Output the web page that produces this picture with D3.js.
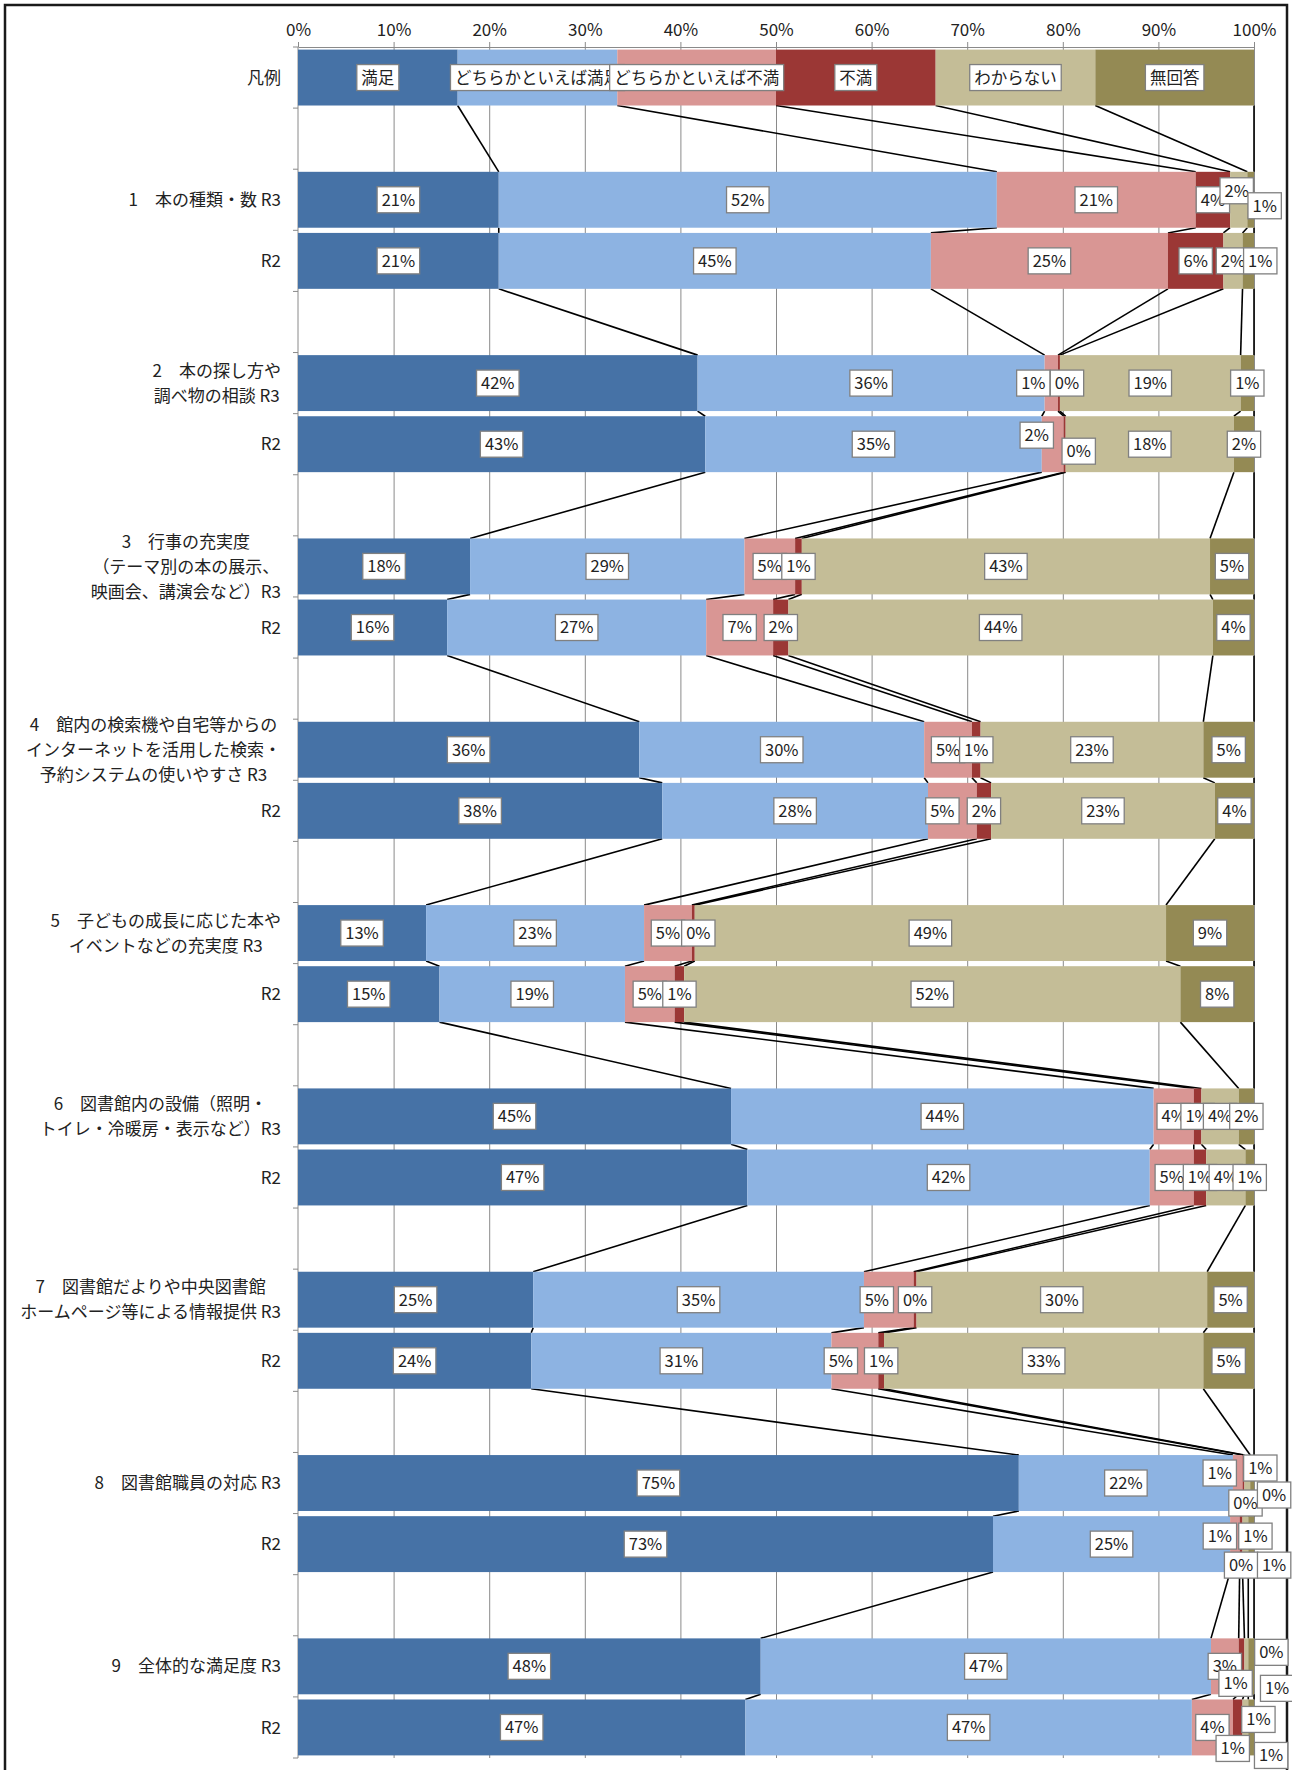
<!DOCTYPE html>
<html>
<head>
<meta charset="utf-8">
<script src="https://cdn.jsdelivr.net/npm/d3@7"></script>
<style>
  body { margin: 0; background: #fff; }
  svg text { font-family: "Noto Sans CJK JP", "Noto Sans", sans-serif; }
</style>
</head>
<body>
<div id="chart"></div>
<script>
// series (legend order)
const seriesNames = ["満足", "どちらかといえば満足", "どちらかといえば不満", "不満", "わからない", "無回答"];
const seriesColors = ["#4672a6", "#8db3e2", "#d99694", "#9b3735", "#c4bd97", "#948a54"];

// legend bar: six equal parts
const legendValues = [16.7, 16.7, 16.6, 16.7, 16.7, 16.6];

// question labels (R3 row), lines of text
const itemLabels = [
  ["1　本の種類・数 R3"],
  ["2　本の探し方や", "調べ物の相談 R3"],
  ["3　行事の充実度", "（テーマ別の本の展示、", "映画会、講演会など）R3"],
  ["4　館内の検索機や自宅等からの", "インターネットを活用した検索・", "予約システムの使いやすさ R3"],
  ["5　子どもの成長に応じた本や", "イベントなどの充実度 R3"],
  ["6　図書館内の設備（照明・", "トイレ・冷暖房・表示など）R3"],
  ["7　図書館だよりや中央図書館", "ホームページ等による情報提供 R3"],
  ["8　図書館職員の対応 R3"],
  ["9　全体的な満足度 R3"]
];

// shares (%), in series order
const r3Values = [
  [21.0, 52.1, 20.8, 3.6, 1.8, 0.7],
  [41.8, 36.3, 1.4, 0.2, 18.9, 1.4],
  [18.0, 28.7, 5.3, 0.7, 42.7, 4.6],
  [35.7, 29.8, 5.0, 0.9, 23.3, 5.3],
  [13.4, 22.8, 5.0, 0.3, 49.3, 9.2],
  [45.3, 44.2, 4.2, 0.8, 3.9, 1.6],
  [24.6, 34.6, 5.2, 0.3, 30.4, 4.9],
  [75.4, 22.4, 1.0, 0.2, 0.6, 0.4],
  [48.4, 47.1, 2.9, 0.6, 0.4, 0.6]
];
const r2Values = [
  [21.0, 45.2, 24.8, 5.8, 2.0, 1.2],
  [42.6, 35.2, 2.3, 0.2, 17.6, 2.1],
  [15.6, 27.1, 7.0, 1.6, 44.4, 4.3],
  [38.1, 27.8, 5.1, 1.5, 23.4, 4.1],
  [14.8, 19.4, 5.2, 1.0, 51.9, 7.7],
  [47.0, 42.1, 4.6, 1.3, 4.1, 0.9],
  [24.4, 31.4, 4.9, 0.6, 33.4, 5.3],
  [72.7, 24.8, 1.0, 0.3, 0.6, 0.6],
  [46.8, 46.7, 4.3, 1.0, 0.6, 0.6]
];

const axisTicks = [0, 10, 20, 30, 40, 50, 60, 70, 80, 90, 100];

// labels that were dragged by hand in the original: key -> [dx, dy]
const labelNudge = {
  "1R3-4": [-2, -9], "1R3-5": [14, 6], "1R2-5": [12, 0],
  "2R3-2": [-18, 0], "2R3-3": [8, 0],
  "2R2-2": [-16, -9], "2R2-3": [14, 7],
  "4R2-2": [-10, 0], "5R3-3": [5, 0],
  "7R3-2": [-12, 0], "7R2-2": [-14, 0],
  "8R3-2": [-18, -10], "8R3-3": [2, 20], "8R3-4": [13, -15], "8R3-5": [22, 12],
  "8R2-2": [-15, -8], "8R2-3": [0, 21], "8R2-4": [10, -8], "8R2-5": [23, 21],
  "9R3-3": [-6, 17], "9R3-4": [25, -14], "9R3-5": [26, 22],
  "9R2-3": [-5, 21], "9R2-4": [13, -8], "9R2-5": [20, 28]
};

const W = 1292, H = 1770;
const keys = seriesNames.map((d, i) => "s" + i);

// rows of the chart, top to bottom (blank slots between questions)
const rows = [{ key: "legend", lines: ["凡例"], values: legendValues, legend: true }, { key: "gap0" }];
itemLabels.forEach((lines, i) => {
  rows.push({ key: (i + 1) + "R3", lines: lines, values: r3Values[i] });
  rows.push({ key: (i + 1) + "R2", lines: ["R2"], values: r2Values[i] });
  if (i < itemLabels.length - 1) rows.push({ key: "gap" + (i + 1) });
});
const bars = rows.filter(r => r.values);
bars.forEach(r => keys.forEach((k, i) => r[k] = r.values[i]));

const svg = d3.select("#chart").append("svg")
  .attr("width", W).attr("height", H);

svg.append("rect").attr("width", W).attr("height", H).attr("fill", "#fff");
svg.append("rect")
  .attr("x", 5).attr("y", 5).attr("width", W - 10).attr("height", H + 20)
  .attr("fill", "none").attr("stroke", "#1a1a1a").attr("stroke-width", 2.5);

const x = d3.scaleLinear().domain([0, 100]).range([298, 1254]);
const y = d3.scaleBand().domain(rows.map(r => r.key)).range([47, 1758])
  .paddingInner(0.085).paddingOuter(0.0425);
const bw = y.bandwidth();
const plotTop = 47, plotBottom = 1758;

// gridlines
svg.append("g")
  .attr("transform", `translate(0,${plotTop})`)
  .call(d3.axisTop(x).tickValues(axisTicks.slice(1)).tickSize(-(plotBottom - plotTop)).tickFormat(""))
  .call(g => g.select(".domain").remove())
  .call(g => g.selectAll("line").attr("stroke", "#8a8a8a"));

// top axis
svg.append("g")
  .attr("transform", `translate(0,${plotTop})`)
  .call(d3.axisTop(x).tickValues(axisTicks).tickSize(5).tickSizeOuter(0).tickPadding(6).tickFormat(d => d + "%"))
  .call(g => g.select(".domain").attr("stroke", "#8a8a8a"))
  .call(g => g.selectAll("line").attr("stroke", "#8a8a8a"))
  .call(g => g.selectAll("text").attr("font-size", 17).attr("fill", "#222")
    .style("font-family", "'Noto Sans CJK JP', sans-serif"));

// left axis: line with ticks at slot boundaries
const half = y.step() * y.paddingInner() / 2;
const bounds = rows.map(r => y(r.key) - half).concat([y(rows[rows.length - 1].key) + bw + half]);
svg.append("line").attr("x1", x(0)).attr("x2", x(0)).attr("y1", plotTop).attr("y2", plotBottom)
  .attr("stroke", "#8a8a8a");
svg.append("g").selectAll("line").data(bounds).join("line")
  .attr("x1", x(0) - 5).attr("x2", x(0)).attr("y1", d => d).attr("y2", d => d)
  .attr("stroke", "#8a8a8a");

// stacking
const stacked = d3.stack().keys(keys)(bars);

// series lines between consecutive bars
const sl = svg.append("g");
stacked.forEach(layer => {
  for (let i = 0; i < bars.length - 1; i++) {
    sl.append("line")
      .attr("x1", x(layer[i][1])).attr("y1", y(bars[i].key) + bw)
      .attr("x2", x(layer[i + 1][1])).attr("y2", y(bars[i + 1].key))
      .attr("stroke", "#000").attr("stroke-width", 1.6);
  }
});

// bars
svg.append("g").selectAll("g").data(stacked).join("g")
  .attr("fill", (d, i) => seriesColors[i])
  .selectAll("rect").data(d => d).join("rect")
  .attr("x", d => x(d[0]))
  .attr("y", d => y(d.data.key))
  .attr("width", d => x(d[1]) - x(d[0]))
  .attr("height", bw);

// data labels
const labelG = svg.append("g");
stacked.forEach((layer, si) => {
  layer.forEach(d => {
    const r = d.data;
    const txt = r.legend ? seriesNames[si] : Math.round(r[keys[si]]) + "%";
    const nudge = labelNudge[r.key + "-" + si] || [0, 0];
    const cx = x((d[0] + d[1]) / 2) + nudge[0];
    const cy = y(r.key) + bw / 2 + nudge[1];
    const g = labelG.append("g").attr("transform", `translate(${cx},${cy})`);
    const box = g.append("rect");
    const t = g.append("text").attr("text-anchor", "middle").attr("dy", "0.36em")
      .attr("font-size", 16.5).attr("fill", "#222").text(txt);
    const w = t.node().getComputedTextLength() + 9;
    box.attr("x", -w / 2).attr("y", -13).attr("width", w).attr("height", 26)
      .attr("fill", "#fff").attr("stroke", "#808080").attr("stroke-width", 1.3);
  });
});

// category labels (lines centred on each other, block right-aligned)
const catG = svg.append("g");
const labelRight = 281, lineH = 25;
bars.forEach(r => {
  const g = catG.append("g");
  const cy = y(r.key) + bw / 2;
  const texts = r.lines.map((ln, i) => g.append("text")
    .attr("font-size", 17).attr("fill", "#222")
    .attr("text-anchor", "middle").attr("dy", "0.36em")
    .attr("y", cy + (i - (r.lines.length - 1) / 2) * lineH)
    .text(ln));
  const maxW = d3.max(texts, t => t.node().getComputedTextLength());
  texts.forEach(t => t.attr("x", labelRight - maxW / 2));
});
</script>
</body>
</html>
